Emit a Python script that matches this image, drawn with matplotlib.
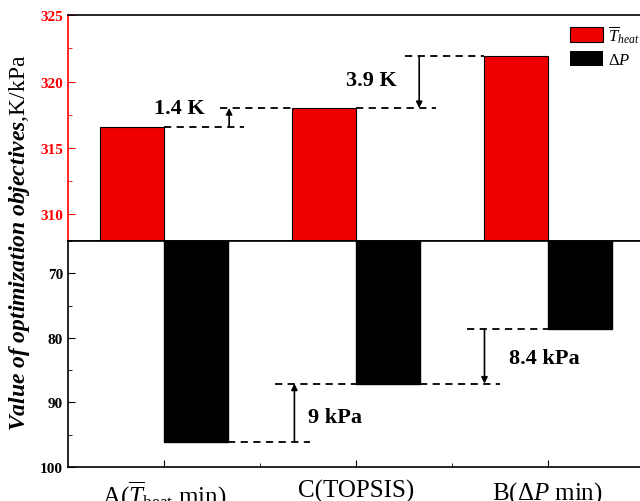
import matplotlib
matplotlib.use("Agg")
import matplotlib.pyplot as plt
from matplotlib.ticker import MultipleLocator

plt.rcParams['font.family'] = ['Liberation Serif', 'DejaVu Serif']
plt.rcParams['mathtext.fontset'] = 'custom'
plt.rcParams['mathtext.rm'] = 'Liberation Serif'
plt.rcParams['mathtext.it'] = 'Liberation Serif:italic'
plt.rcParams['mathtext.bf'] = 'Liberation Serif:bold'
plt.rcParams['mathtext.bfit'] = 'Liberation Serif:bold:italic'

# данные
schemes = [r"A($\overline{T}_{\rm heat}$ min)", "C(TOPSIS)", r"B($\mathit{ΔP}$ min)"]
t_heat = [316.6, 318.0, 321.9]   # K
dp = [96.1, 87.1, 78.6]          # kPa
pos = [1, 2, 3]
w = 0.333

fig = plt.figure(figsize=(6.4, 5.02), dpi=100)
ax1 = fig.add_axes([0.106, 0.518, 0.9, 0.450])
ax2 = fig.add_axes([0.106, 0.068, 0.9, 0.450], sharex=ax1)

# верхняя часть - температура
ax1.bar([p - w / 2 for p in pos], t_heat, width=w, color='#ee0000', edgecolor='black',
        linewidth=0.8, label=r"$\overline{T}_{heat}$")
ax1.bar([0], [0], width=w, color='black', label=r"$\mathit{ΔP}$")
ax1.set_ylim(308, 325)
ax1.set_xlim(0.5, 3.5)
ax1.yaxis.set_major_locator(MultipleLocator(5))
ax1.yaxis.set_minor_locator(MultipleLocator(2.5))
ax1.tick_params(axis='y', which='both', direction='in', colors='red', labelsize=11)
ax1.tick_params(axis='y', which='major', length=5)
ax1.tick_params(axis='y', which='minor', length=3)
ax1.tick_params(axis='x', which='both', bottom=False, labelbottom=False)
for lab in ax1.get_yticklabels():
    lab.set_fontweight('bold')
ax1.spines['left'].set_color('red')
for s in ax1.spines.values():
    s.set_linewidth(1.2)

# нижняя часть - перепад давления
ax2.bar([p + w / 2 for p in pos], dp, width=w, color='black', edgecolor='black')
ax2.set_ylim(100, 65)
ax2.yaxis.set_major_locator(MultipleLocator(10))
ax2.yaxis.set_minor_locator(MultipleLocator(5))
ax2.set_xticks(pos)
ax2.set_xticks([1.5, 2.5], minor=True)
ax2.set_xticklabels(schemes, fontsize=18)
ax2.tick_params(axis='both', which='both', direction='in', labelsize=11)
ax2.tick_params(axis='x', labelsize=18, pad=9)
ax2.tick_params(which='major', length=5)
ax2.tick_params(which='minor', length=3)
for lab in ax2.get_yticklabels():
    lab.set_fontweight('bold')
for s in ax2.spines.values():
    s.set_linewidth(1.2)

# пунктир и стрелки
dash = dict(color='black', linestyle=(0, (4, 3)), linewidth=1.3)
arr = dict(arrowstyle='-|>', color='black', lw=1.2, mutation_scale=9, shrinkA=0, shrinkB=0)

ax1.plot([1.0, 1.42], [t_heat[0]] * 2, **dash)
ax1.plot([1.29, 1.667], [t_heat[1]] * 2, **dash)
ax1.annotate('', xy=(1.34, t_heat[1]), xytext=(1.34, t_heat[0]), arrowprops=arr)
ax1.text(1.08, 318.0, "1.4 K", ha='center', va='center', fontsize=16, fontweight='bold')

ax1.plot([2.0, 2.42], [t_heat[1]] * 2, **dash)
ax1.plot([2.255, 2.667], [t_heat[2]] * 2, **dash)
ax1.annotate('', xy=(2.33, t_heat[1]), xytext=(2.33, t_heat[2]), arrowprops=arr)
ax1.text(2.08, 320.1, "3.9 K", ha='center', va='center', fontsize=16, fontweight='bold')

ax2.plot([1.333, 1.76], [dp[0]] * 2, **dash)
ax2.plot([1.58, 2.0], [dp[1]] * 2, **dash)
ax2.annotate('', xy=(1.68, dp[1]), xytext=(1.68, dp[0]), arrowprops=arr)
ax2.text(1.75, 92.35, "9 kPa", ha='left', va='center', fontsize=16, fontweight='bold')

ax2.plot([2.333, 2.75], [dp[1]] * 2, **dash)
ax2.plot([2.58, 3.0], [dp[2]] * 2, **dash)
ax2.annotate('', xy=(2.67, dp[1]), xytext=(2.67, dp[2]), arrowprops=arr)
ax2.text(2.80, 83.1, "8.4 kPa", ha='left', va='center', fontsize=16, fontweight='bold')

ax1.legend(loc='upper left', bbox_to_anchor=(570 / 640, 1 - 24 / 502), bbox_transform=fig.transFigure,
           frameon=False, fontsize=12, handlelength=2.0, handleheight=1.0,
           handletextpad=0.3, labelspacing=0.4, borderpad=0, borderaxespad=0)

fig.text(0.031, 0.516, r"$\mathbfit{Value\ of\ optimization\ objectives}$,K/kPa",
         rotation=90, ha='center', va='center', fontsize=17)

fig.savefig("out.png", dpi=100)
